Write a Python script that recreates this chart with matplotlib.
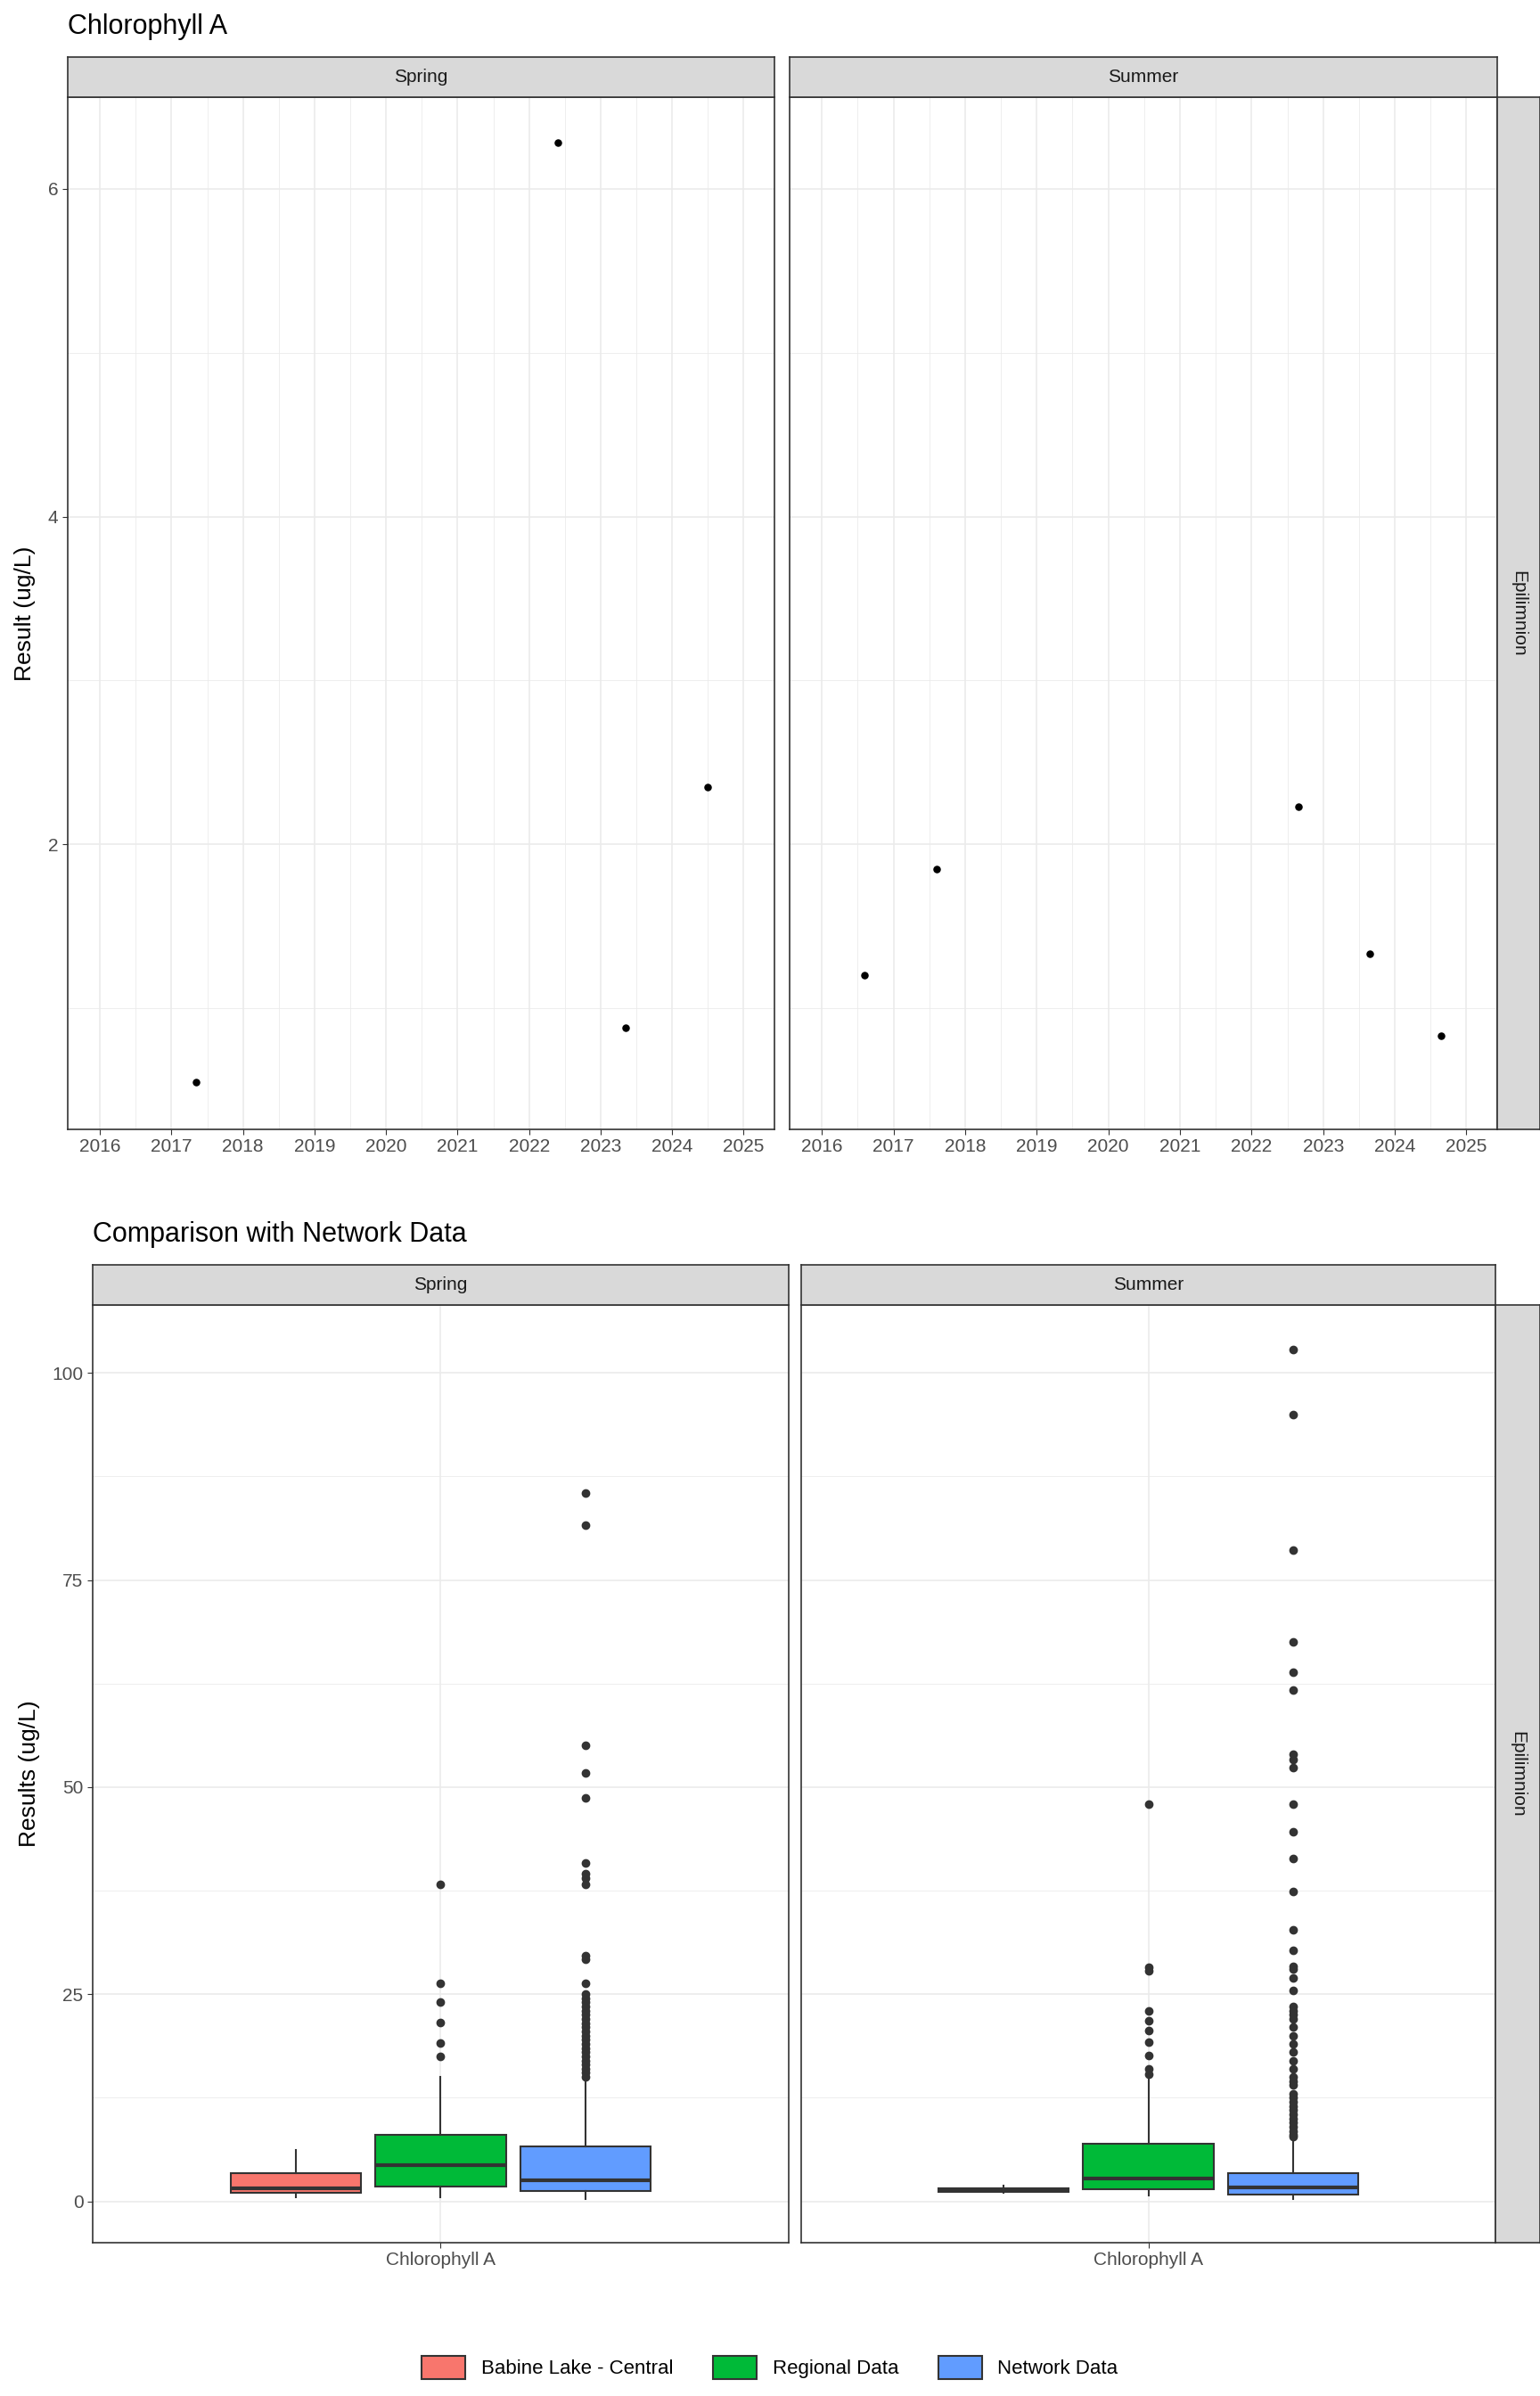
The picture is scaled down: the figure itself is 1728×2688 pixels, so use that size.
import matplotlib
matplotlib.use("Agg")
import matplotlib.pyplot as plt
from matplotlib.patches import Patch
from matplotlib.ticker import MultipleLocator

plt.rcParams["font.family"] = "Liberation Sans"

# ---- Data: top panel (time series) ----
spring_years = [2017.35, 2022.4, 2023.35, 2024.5]
spring_vals = [0.55, 6.28, 0.88, 2.35]
summer_years = [2016.6, 2017.6, 2022.65, 2023.65, 2024.65]
summer_vals = [1.2, 1.85, 2.23, 1.33, 0.83]
year_ticks = list(range(2016, 2026))

# ---- Data: box stats (whislo, q1, med, q3, whishi) ----
groups = ["Babine Lake - Central", "Regional Data", "Network Data"]
colors = ["#F8766D", "#00BA38", "#619CFF"]
spring_stats = [(0.5, 1.0, 1.6, 3.4, 6.2), (0.5, 1.8, 4.4, 8.0, 15.0), (0.3, 1.2, 2.5, 6.6, 14.5)]
summer_stats = [(1.0, 1.1, 1.3, 1.6, 1.9), (0.7, 1.5, 2.7, 6.9, 14.8), (0.3, 0.8, 1.7, 3.4, 7.5)]
spring_out = [[], [38.3, 26.3, 24.0, 21.6, 19.1, 17.5],
              [85.5, 81.6, 55.0, 51.7, 48.7, 40.8, 39.5, 39.0, 38.3, 29.6, 29.2, 26.3, 25.0, 24.5,
               24.0, 23.5, 23.0, 22.5, 22.0, 21.5, 21.0, 20.5, 20.0, 19.5, 19.0, 18.5, 18.0, 17.5,
               17.0, 16.5, 16.0, 15.5, 15.0]]
summer_out = [[], [47.9, 28.2, 27.8, 23.0, 21.8, 20.6, 19.2, 17.6, 16.0, 15.3],
              [102.8, 95.0, 78.6, 67.5, 63.9, 61.7, 54.0, 53.3, 52.3, 47.9, 44.6, 41.4, 37.4, 32.8,
               30.3, 28.4, 28.0, 27.0, 25.5, 23.5, 23.0, 22.5, 22.0, 21.0, 20.0, 19.0, 18.0, 17.0,
               16.0, 15.0, 14.5, 14.0, 13.0, 12.5, 12.0, 11.5, 11.0, 10.5, 10.0, 9.5, 9.0, 8.5, 8.0, 7.8]]

W, H = 1728, 2688
fig = plt.figure(figsize=(W / 100, H / 100), dpi=100)
GRID = "#EBEBEB"
STRIP = "#D9D9D9"
EDGE = "#333333"

def ax_px(x0, y0, x1, y1):
    return fig.add_axes([x0 / W, 1 - y1 / H, (x1 - x0) / W, (y1 - y0) / H])

def style(ax):
    for s in ax.spines.values():
        s.set_color(EDGE); s.set_linewidth(1.2)
    ax.tick_params(colors=EDGE, labelcolor="#4D4D4D", labelsize=15, length=4)
    ax.set_axisbelow(True)
    ax.grid(True, which="major", color=GRID, lw=1.2)
    ax.grid(True, which="minor", color=GRID, lw=0.6)

def strip(x0, y0, x1, y1, text, rot=0):
    a = ax_px(x0, y0, x1, y1)
    a.set_facecolor(STRIP); a.set_xticks([]); a.set_yticks([])
    for s in a.spines.values():
        s.set_color(EDGE); s.set_linewidth(1.2)
    a.text(0.5, 0.5, text, ha="center", va="center", rotation=rot, fontsize=15, color="#1A1A1A",
           transform=a.transAxes)

# ---- Top ----
fig.text(76 / W, 1 - 30 / H, "Chlorophyll A", fontsize=22, va="center")
top_panels = [(76, 869, "Spring", spring_years, spring_vals), (886, 1680, "Summer", summer_years, summer_vals)]
for i, (x0, x1, name, xs, ys) in enumerate(top_panels):
    ax = ax_px(x0, 109, x1, 1267)
    ax.scatter(xs, ys, s=26, color="black", zorder=3)
    ax.set_xlim(2015.55, 2025.43); ax.set_ylim(0.26, 6.56)
    ax.set_xticks(year_ticks); ax.xaxis.set_minor_locator(MultipleLocator(0.5))
    ax.set_yticks([2, 4, 6]); ax.yaxis.set_minor_locator(MultipleLocator(1))
    ax.tick_params(which="minor", length=0)
    style(ax)
    if i == 0:
        ax.set_ylabel("Result (ug/L)", fontsize=19, labelpad=10)
    else:
        ax.tick_params(axis="y", labelleft=False, length=0)
    strip(x0, 64, x1, 109, name)
strip(1680, 109, 1728, 1267, "Epilimnion", rot=-90)

# ---- Bottom ----
fig.text(104 / W, 1 - 1385 / H, "Comparison with Network Data", fontsize=22, va="center")
bot = [(104, 885, "Spring", spring_stats, spring_out), (899, 1678, "Summer", summer_stats, summer_out)]
positions = [0.75, 1.0, 1.25]
for i, (x0, x1, name, stats, outs) in enumerate(bot):
    ax = ax_px(x0, 1464, x1, 2516)
    bx = []
    for (lo, q1, med, q3, hi), fl in zip(stats, outs):
        bx.append(dict(whislo=lo, q1=q1, med=med, q3=q3, whishi=hi, fliers=fl))
    b = ax.bxp(bx, positions=positions, widths=0.225, patch_artist=True, showcaps=False,
               boxprops=dict(edgecolor=EDGE, linewidth=1.5),
               medianprops=dict(color=EDGE, linewidth=3),
               whiskerprops=dict(color=EDGE, linewidth=1.5),
               flierprops=dict(marker="o", markerfacecolor=EDGE, markeredgecolor=EDGE, markersize=6))
    for p, c in zip(b["boxes"], colors):
        p.set_facecolor(c)
    ax.set_xlim(0.4, 1.6); ax.set_ylim(-5, 108.2)
    ax.set_xticks([1.0]); ax.set_xticklabels(["Chlorophyll A"])
    ax.set_yticks([0, 25, 50, 75, 100]); ax.yaxis.set_minor_locator(MultipleLocator(12.5))
    ax.tick_params(which="minor", length=0)
    style(ax)
    if i == 0:
        ax.set_ylabel("Results (ug/L)", fontsize=19, labelpad=10)
    else:
        ax.tick_params(axis="y", labelleft=False, length=0)
    strip(x0, 1419, x1, 1464, name)
strip(1678, 1464, 1728, 2516, "Epilimnion", rot=-90)

handles = [Patch(facecolor=c, edgecolor=EDGE, linewidth=1.5) for c in colors]
fig.legend(handles, groups, loc="center", bbox_to_anchor=(0.5, 1 - 2656 / H), ncol=3, frameon=False,
           fontsize=16, handlelength=2.2, handleheight=1.4, columnspacing=2.0)

fig.savefig("out.png", dpi=100)
